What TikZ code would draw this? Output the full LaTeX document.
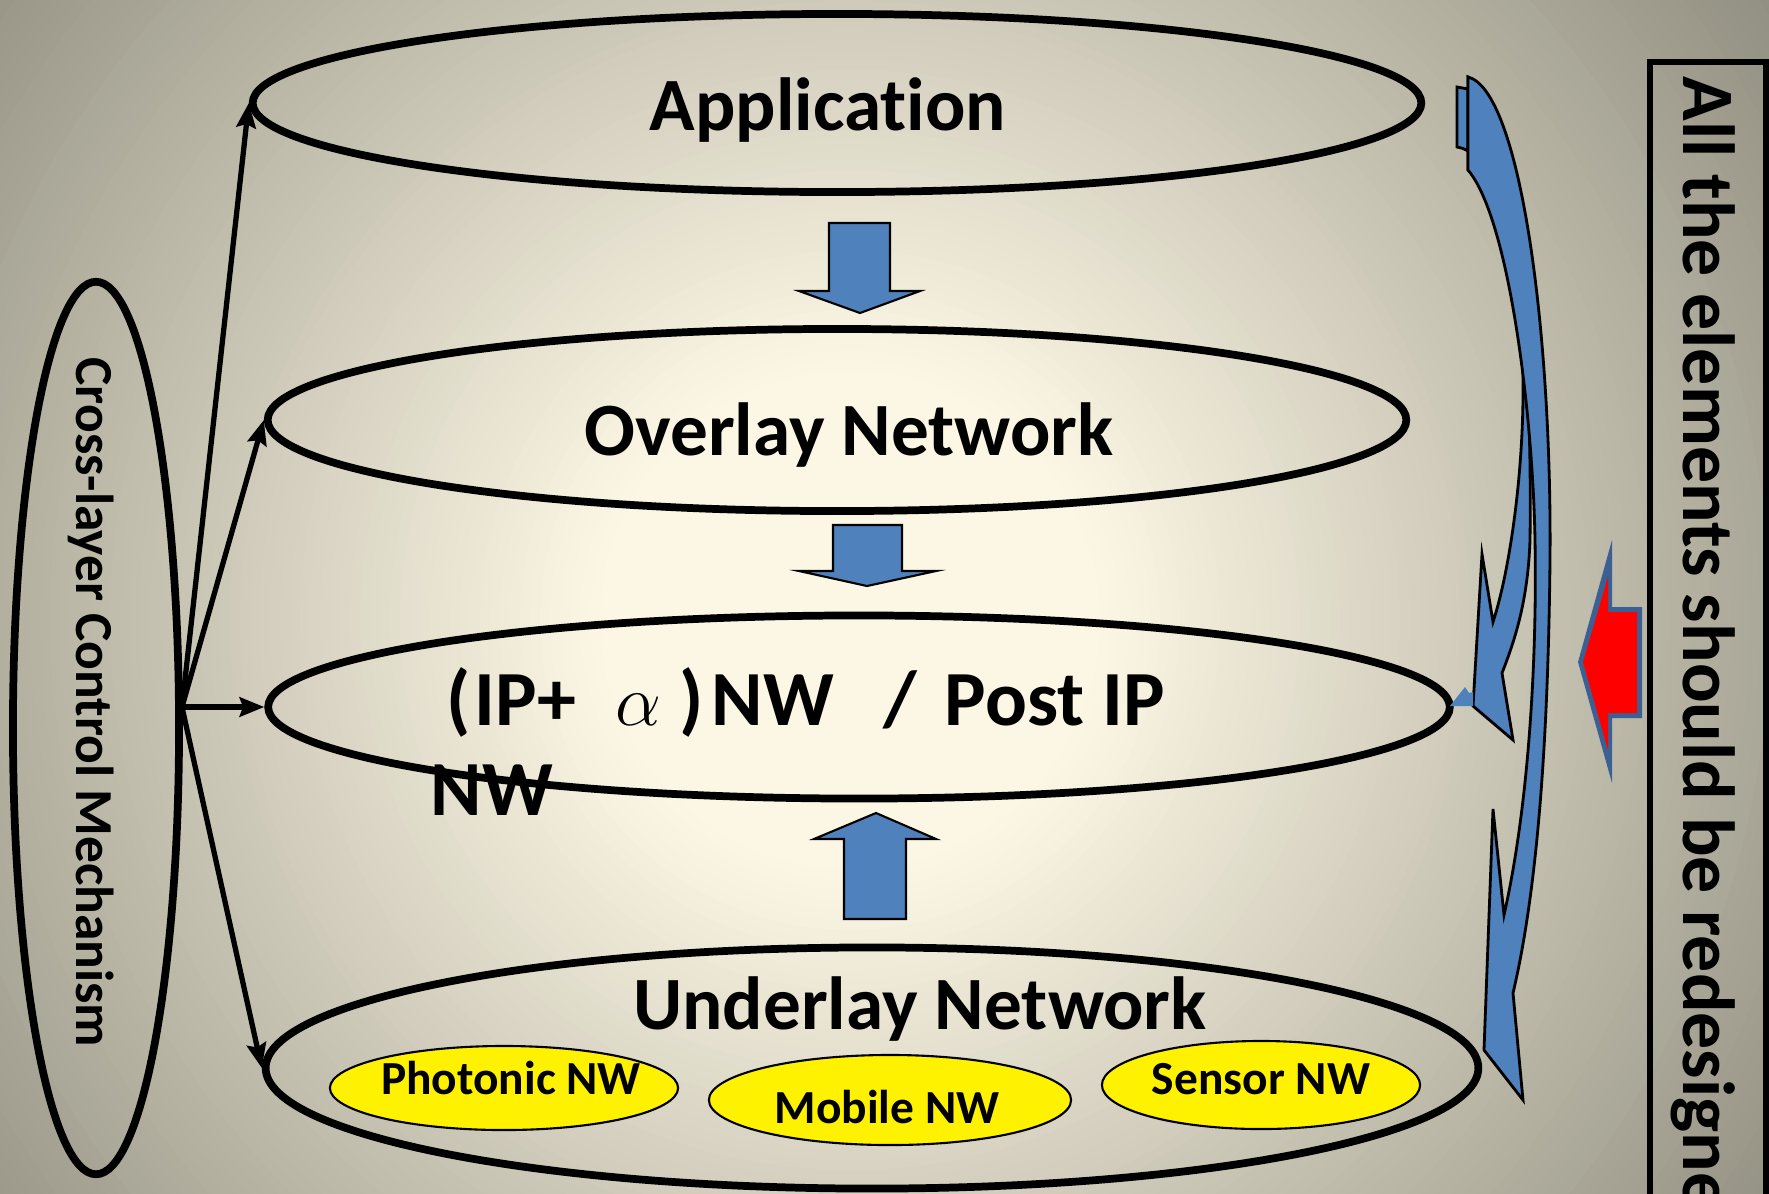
\documentclass[tikz,border=0pt]{standalone}
\usepackage{fontspec}
\setmainfont{Carlito}[Ligatures = {TeX, NoCommon}]
\usetikzlibrary{shapes.geometric, arrows.meta}

\definecolor{slideblue}{RGB}{79,129,189}
\definecolor{arrowedge}{RGB}{60,96,146}
\definecolor{bginner}{RGB}{252,246,228}
\definecolor{bgouter}{RGB}{146,144,130}

\begin{document}
\begin{tikzpicture}[x = 0.01cm, y = -0.01cm, line join = miter,
    layer/.style = { ellipse, draw, line width = 2.2pt, inner sep = 0pt },
    subnet/.style = { ellipse, draw, fill = yellow, line width = 0.6pt, inner sep = 0pt },
    bigtext/.style = { font = \fontsize{21.4}{25}\selectfont\bfseries, inner sep = 0pt },
    iptext/.style = { font = \fontsize{22.2}{27}\selectfont\bfseries, inner sep = 0pt },
    notetext/.style = { font = \fontsize{21}{25}\selectfont\bfseries, inner sep = 0pt },
    smalltext/.style = { font = \fontsize{13.5}{16}\selectfont\bfseries, inner sep = 0pt },
    crosstext/.style = { font = \fontsize{15.2}{18}\selectfont\bfseries, inner sep = 0pt },
    link/.style = { line width = 1.5pt, -{Stealth[length = 7pt, width = 5.5pt, inset = 1pt]} },
    blockarrow/.style = { fill = slideblue, draw = black, line width = 0.6pt }]

  \useasboundingbox (0, 0) rectangle (1769, 1193);
  % background, light in the middle
  \begin{scope}
    \clip (0, 0) rectangle (1769, 1193);
    \fill [bgouter] (0, 0) rectangle (1769, 1193);
    \foreach \r in {1100, 1090, ..., 260} {
      \pgfmathtruncatemacro{\shadepct}{min(100, (\r - 250) / 8.6)}
      \fill [bgouter!\shadepct!bginner] (850, 620) circle (\r);
    }
    \fill [bginner] (850, 620) circle (250);
  \end{scope}

  % layers
  \node [layer, minimum width = 11.68cm, minimum height = 1.78cm] (application) at (837, 103) {};
  \node [layer, minimum width = 11.38cm, minimum height = 1.82cm] (overlay) at (837, 420) {};
  \node [layer, minimum width = 11.81cm, minimum height = 1.83cm] (ipnw) at (859, 707) {};
  \node [layer, minimum width = 12.12cm, minimum height = 2.41cm] (underlay) at (872, 1068) {};
  \node [layer, minimum width = 1.66cm, minimum height = 8.92cm] (crosslayer) at (96, 728) {};

  \node [bigtext, anchor = base] (applabel) at (828, 130) {Application};
  \node [bigtext, anchor = base] (overlaylabel) at (849, 455) {Overlay Network};
  \node [iptext, anchor = base west] (iplabel) at (446, 725) {(\hspace{0.05em}IP+\hspace{0.5em}$\alpha$\hspace{0.24em})\hspace{0.1em}NW\hspace{0.63em}/\hspace{0.36em}Post IP};
  \node [iptext, anchor = base west] (iplabelb) at (430, 815) {NW};
  \node [bigtext, anchor = base] (underlaylabel) at (920, 1029) {Underlay Network};
  \node [crosstext, rotate = -90, anchor = base west] (crosslabel) at (77, 357) {Cross-layer Control Mechanism};

  % networks inside the underlay
  \node [subnet, minimum width = 3.48cm, minimum height = 0.84cm] (photonic) at (504, 1088) {};
  \node [subnet, minimum width = 3.62cm, minimum height = 0.90cm] (mobile) at (890, 1100) {};
  \node [subnet, minimum width = 3.18cm, minimum height = 0.88cm] (sensor) at (1261, 1085) {};
  \node [smalltext, anchor = base] (photoniclabel) at (511, 1094) {Photonic NW};
  \node [smalltext, anchor = base] (mobilelabel) at (887, 1123) {Mobile NW};
  \node [smalltext, anchor = base] (sensorlabel) at (1261, 1094) {Sensor NW};

  % control links
  \coordinate (hub) at (182, 707);
  \draw [link] (hub) -- (application.west);
  \draw [link] (hub) -- (overlay.west);
  \draw [link] (hub) -- (ipnw.west);
  \draw [link] (hub) -- (underlay.west);

  % block arrows between layers
  \filldraw [blockarrow] (829, 223) -- (890, 223) -- (890, 291) -- (920, 291) -- (860, 313) -- (799, 291) -- (829, 291) -- cycle;
  \filldraw [blockarrow] (833, 525) -- (902, 525) -- (902, 571) -- (936, 571) -- (867, 586) -- (799, 571) -- (833, 571) -- cycle;
  \filldraw [blockarrow] (844, 919) -- (906, 919) -- (906, 839) -- (936, 839) -- (876, 813) -- (814, 839) -- (844, 839) -- cycle;

  % curved arrows on the right
  \filldraw [blockarrow, line width = 0.8pt] (1468, 89) -- (1457, 87) -- (1457, 147) .. controls (1462, 148) and (1465, 149) .. (1468, 151) -- cycle;
  \filldraw [blockarrow, line width = 0.8pt] (1468, 77) .. controls (1510, 90) and (1533, 330) .. (1530, 540) .. controls (1528, 600) and (1515, 640) .. (1502, 673) -- (1513, 740) -- (1473, 706) -- (1482, 554) -- (1493, 622) .. controls (1510, 570) and (1524, 470) .. (1523, 380) .. controls (1522, 290) and (1505, 200) .. (1468, 170) -- cycle;
  \filldraw [blockarrow, line width = 0.8pt] (1468, 77) .. controls (1520, 90) and (1552, 330) .. (1550, 560) .. controls (1548, 760) and (1535, 900) .. (1513, 993) -- (1523, 1100) -- (1484, 1050) -- (1493, 809) -- (1504, 915) .. controls (1530, 800) and (1537, 650) .. (1535, 540) .. controls (1533, 420) and (1510, 220) .. (1468, 170) -- cycle;
  \fill [slideblue] (1450, 706) -- (1465, 687) -- (1469, 693) -- (1473, 692) -- (1473, 706) -- cycle;

  % red arrow and side note
  \fill [arrowedge] (1578, 662) -- (1612, 540) -- (1612, 607) -- (1642, 607) -- (1642, 718) -- (1612, 718) -- (1612, 783) -- cycle;
  \fill [red] (1583, 662) -- (1608, 577) -- (1608, 612) -- (1637, 612) -- (1637, 713) -- (1608, 713) -- (1608, 750) -- cycle;
  \draw [line width = 1.7pt] (1650, 1210) -- (1650, 62) -- (1766, 62) -- (1766, 1210);
  \node [notetext, rotate = -90, anchor = base west] (redesign) at (1683, 76) {All the elements should be redesigned};
\end{tikzpicture}
\end{document}
